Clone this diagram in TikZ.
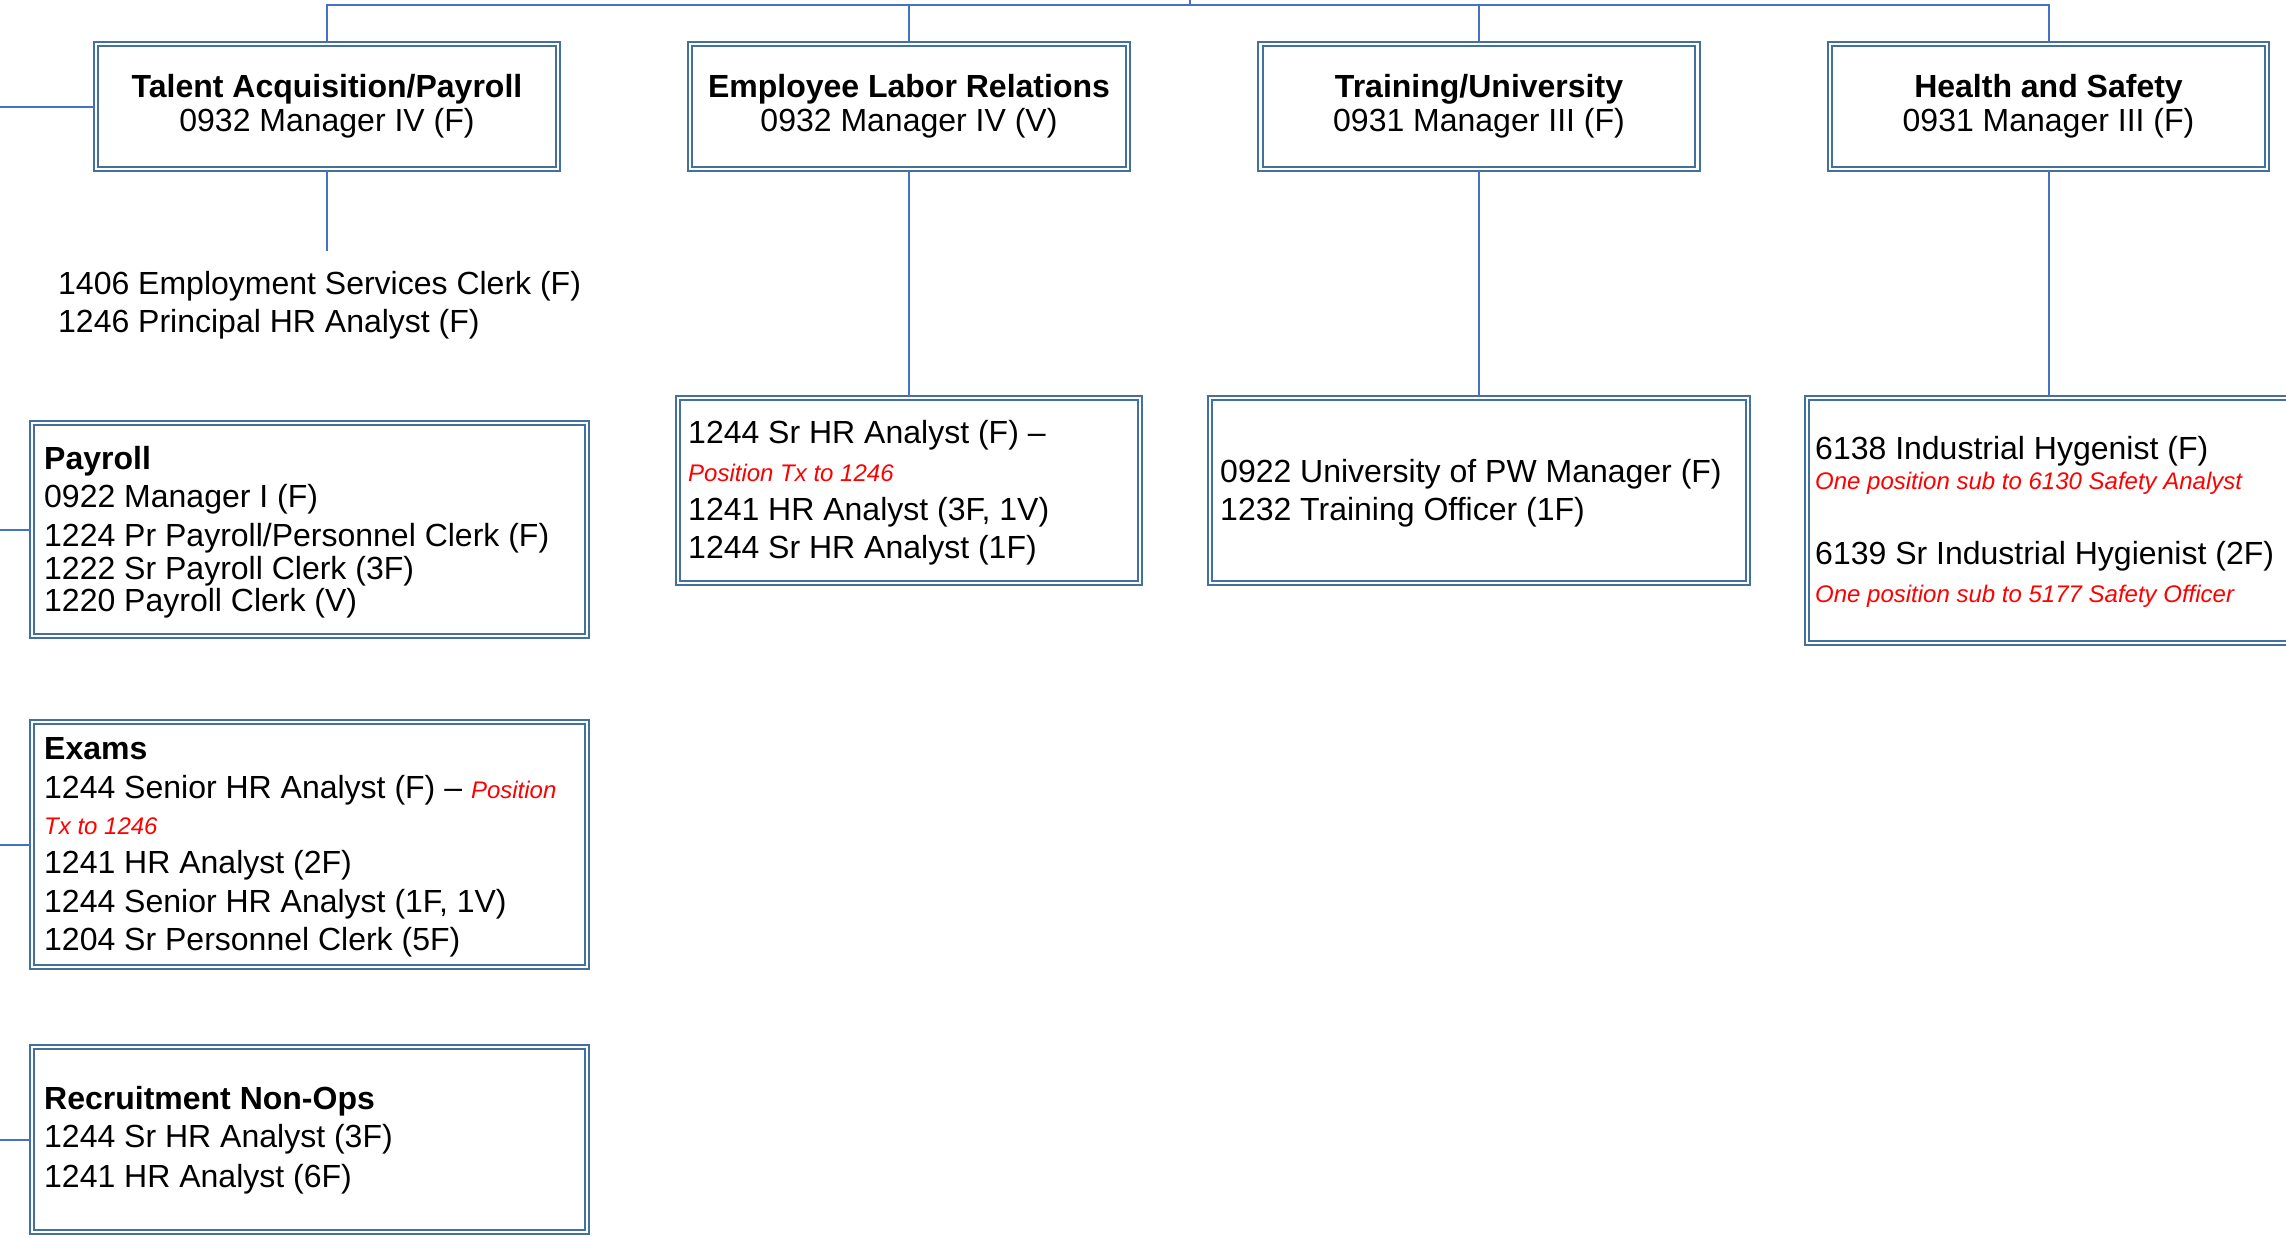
\documentclass[tikz,border=0pt]{standalone}
\usepackage{fontspec}
\setmainfont{Liberation Sans}
\definecolor{boxblue}{RGB}{65,113,156}
\definecolor{linkblue}{RGB}{68,114,196}
\definecolor{notered}{RGB}{255,0,0}
\newcommand{\bodyfont}{\fontsize{32}{34}\selectfont}
\newcommand{\notefont}{\fontsize{24}{26}\selectfont\itshape\color{notered}}
\tikzset{
  unitbox/.style={draw=boxblue, double=white, double distance=2.6pt, line width=1.9pt,
    rectangle, inner sep=0pt, fill=white},
  headbox/.style={unitbox, align=center, font=\bodyfont},
  link/.style={draw=linkblue, line width=2pt},
  ln/.style={anchor=base west, inner sep=0pt, font=\bodyfont, text=black},
  note/.style={anchor=base west, inner sep=0pt, font=\notefont},
}
\begin{document}
\begin{tikzpicture}[x=1pt, y=-1pt]
\useasboundingbox (0,0) rectangle (2286,1237);
\clip (0,0) rectangle (2286,1237);

\coordinate (leftedge) at (0,0);
\coordinate (top) at (1190,0);
\coordinate (bus) at (1190,5);

% division heads
\node[headbox, minimum width=462, minimum height=125] (talent) at (327,106.5)
  {\textbf{Talent Acquisition/Payroll}\\0932 Manager IV (F)};
\node[headbox, minimum width=438, minimum height=125] (elr) at (909,106.5)
  {\textbf{Employee Labor Relations}\\0932 Manager IV (V)};
\node[headbox, minimum width=437, minimum height=125] (training) at (1479,106.5)
  {\textbf{Training/University}\\0931 Manager III (F)};
\node[headbox, minimum width=437, minimum height=125] (health) at (2048.5,106.5)
  {\textbf{Health and Safety}\\0931 Manager III (F)};

% section boxes
\node[unitbox, minimum width=555, minimum height=213] (payroll) at (309.5,529.5) {};
\node[unitbox, minimum width=555, minimum height=245] (exams) at (309.5,844.5) {};
\node[unitbox, minimum width=555, minimum height=185] (recruit) at (309.5,1139.5) {};
\node[unitbox, minimum width=462, minimum height=185] (elrstaff) at (909,490.5) {};
\node[unitbox, minimum width=538, minimum height=185] (trainstaff) at (1479,490.5) {};
\node[unitbox, minimum width=493, minimum height=245] (healthstaff) at (2053.5,520.5) {};

% connectors
\draw[link] (top) -- (bus);
\draw[link] (talent.north) |- (bus) -| (health.north);
\draw[link] (elr.north) -- (elr.north |- bus);
\draw[link] (training.north) -- (training.north |- bus);
\draw[link] (talent.west) -- (talent.west -| leftedge);
\coordinate (tastub) at (327,251);
\draw[link] (talent.south) -- (tastub);
\draw[link] (elr.south) -- (elr.south |- elrstaff.north);
\draw[link] (training.south) -- (training.south |- trainstaff.north);
\draw[link] (health.south) -- (health.south |- healthstaff.north);
\draw[link] (payroll.west -| leftedge) -- (payroll.west);
\draw[link] (exams.west -| leftedge) -- (exams.west);
\draw[link] (recruit.west -| leftedge) -- (recruit.west);

% staff reporting directly to Talent Acquisition
\node[ln] (ta1) at (58,294.5) {1406 Employment Services Clerk (F)};
\node[ln] (ta2) at (58,332.5) {1246 Principal HR Analyst (F)};

% Payroll
\node[ln] (p1) at (44,469) {\textbf{Payroll}};
\node[ln] (p2) at (44,507) {0922 Manager I (F)};
\node[ln] (p3) at (44,546) {1224 Pr Payroll/Personnel Clerk (F)};
\node[ln] (p4) at (44,579) {1222 Sr Payroll Clerk (3F)};
\node[ln] (p5) at (44,611) {1220 Payroll Clerk (V)};

% Exams
\node[ln] (e1) at (44,759) {\textbf{Exams}};
\node[ln] (e2) at (44,798) {1244 Senior HR Analyst (F) -- {\notefont Position}};
\node[note] (e3) at (44,834) {Tx to 1246};
\node[ln] (e4) at (44,873) {1241 HR Analyst (2F)};
\node[ln] (e5) at (44,912) {1244 Senior HR Analyst (1F, 1V)};
\node[ln] (e6) at (44,950) {1204 Sr Personnel Clerk (5F)};

% Recruitment Non-Ops
\node[ln] (r1) at (44,1109) {\textbf{Recruitment Non-Ops}};
\node[ln] (r2) at (44,1147) {1244 Sr HR Analyst (3F)};
\node[ln] (r3) at (44,1187) {1241 HR Analyst (6F)};

% Employee Labor Relations staff
\node[ln] (l1) at (688,443) {1244 Sr HR Analyst (F) --};
\node[note] (l2) at (688,481) {Position Tx to 1246};
\node[ln] (l3) at (688,520) {1241 HR Analyst (3F, 1V)};
\node[ln] (l4) at (688,558) {1244 Sr HR Analyst (1F)};

% Training staff
\node[ln] (u1) at (1220,482) {0922 University of PW Manager (F)};
\node[ln] (u2) at (1220,520) {1232 Training Officer (1F)};

% Health and Safety staff
\node[ln] (h1) at (1815,459) {6138 Industrial Hygenist (F)};
\node[note] (h2) at (1815,489) {One position sub to 6130 Safety Analyst};
\node[ln] (h3) at (1815,564.5) {6139 Sr Industrial Hygienist (2F)};
\node[note] (h4) at (1815,602) {One position sub to 5177 Safety Officer};
\end{tikzpicture}
\end{document}
